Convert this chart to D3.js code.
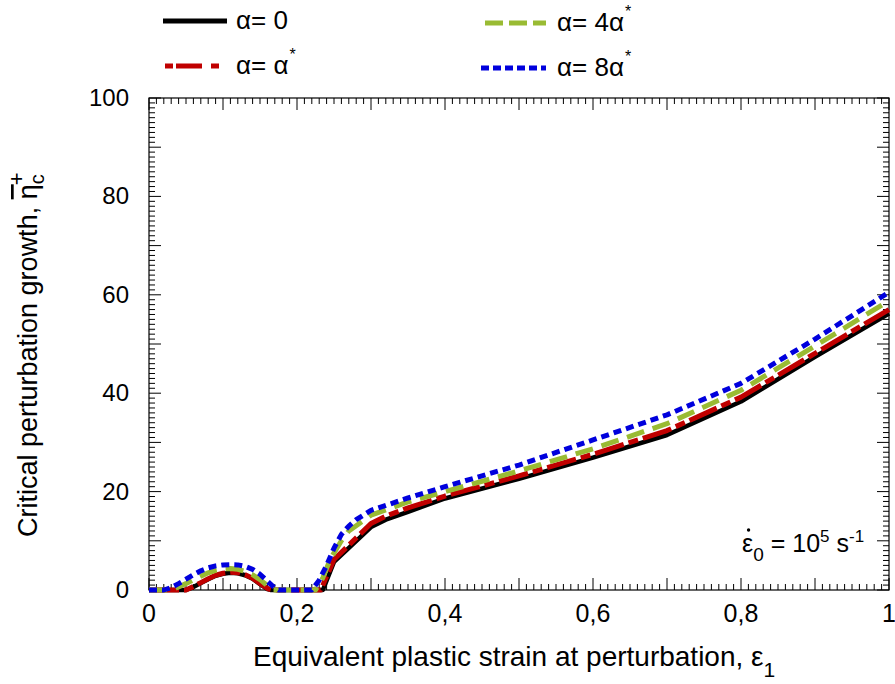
<!DOCTYPE html>
<html>
<head>
<meta charset="utf-8">
<script src="https://cdn.jsdelivr.net/npm/d3@7"></script>
<style>
  html, body { margin: 0; padding: 0; background: #fff; }
  svg text { font-family: "Liberation Sans", Arial, Helvetica, sans-serif; fill: #000; }
</style>
</head>
<body>
<svg id="chart" width="895" height="684"></svg>
<script>
// ---------- data ----------
const alpha0X = [0, 0.05, 0.06, 0.07, 0.08, 0.09, 0.10, 0.11, 0.12, 0.13, 0.14, 0.15, 0.16, 0.165, 0.2, 0.235, 0.25, 0.3, 0.32, 0.35, 0.4, 0.5, 0.6, 0.7, 0.8, 0.9, 1.0];
const alpha0Y = [0, 0, 0.6, 1.4, 2.2, 2.9, 3.3, 3.5, 3.4, 3.0, 2.3, 1.2, 0.2, 0, 0, 0, 5.7, 12.8, 14.3, 15.9, 18.6, 22.6, 26.9, 31.5, 38.3, 47.4, 56.2];

const alpha1X = [0, 0.05, 0.06, 0.07, 0.08, 0.09, 0.10, 0.11, 0.12, 0.13, 0.14, 0.15, 0.16, 0.167, 0.2, 0.232, 0.25, 0.3, 0.32, 0.35, 0.4, 0.5, 0.6, 0.7, 0.8, 0.9, 1.0];
const alpha1Y = [0, 0, 0.7, 1.5, 2.3, 3.0, 3.4, 3.6, 3.5, 3.1, 2.4, 1.3, 0.3, 0, 0, 0, 6.2, 13.5, 15.0, 16.7, 19.1, 23.2, 27.6, 32.4, 39.2, 48.1, 57.0];

const alpha4X = [0, 0.03, 0.04, 0.05, 0.06, 0.07, 0.08, 0.09, 0.10, 0.11, 0.12, 0.13, 0.14, 0.15, 0.16, 0.168, 0.2, 0.225, 0.235, 0.245, 0.26, 0.27, 0.3, 0.35, 0.4, 0.5, 0.6, 0.7, 0.8, 0.9, 1.0];
const alpha4Y = [0, 0, 0.6, 1.3, 2.1, 2.8, 3.5, 4.0, 4.3, 4.35, 4.2, 3.8, 3.1, 2.1, 0.9, 0, 0, 0, 2.5, 6.3, 10.0, 12.0, 15.2, 17.9, 20.0, 24.2, 28.7, 33.8, 40.6, 49.6, 58.8];

const alpha8X = [0, 0.02, 0.03, 0.04, 0.05, 0.06, 0.07, 0.08, 0.09, 0.10, 0.11, 0.12, 0.13, 0.14, 0.15, 0.16, 0.17, 0.175, 0.2, 0.22, 0.23, 0.24, 0.25, 0.26, 0.27, 0.28, 0.3, 0.35, 0.4, 0.5, 0.6, 0.7, 0.8, 0.9, 1.0];
const alpha8Y = [0, 0, 0.5, 1.3, 2.2, 3.1, 3.9, 4.5, 4.9, 5.1, 5.15, 5.1, 4.8, 4.2, 3.2, 1.8, 0.4, 0, 0, 0, 2.0, 5.0, 8.5, 11.3, 13.0, 14.3, 16.2, 18.7, 21.0, 25.4, 30.5, 35.6, 42.0, 51.0, 60.5];

const xTickLabels = [0, 0.2, 0.4, 0.6, 0.8, 1];
const yTickLabels = [0, 20, 40, 60, 80, 100];

const seriesNames = ["α= 0", "α= α", "α= 4α", "α= 8α"];
const seriesColors = ["#000000", "#c00000", "#99bb33", "#0000dd"];
const seriesDash = [null, "30,5,10,5", "18,9", "8,5"];
const legendDash = [null, "8,3,26,9", "18,6", "8,4"];

// ---------- layout ----------
const svg = d3.select("#chart");
const L = 149, R = 889, T = 98, B = 590;
const x = d3.scaleLinear().domain([0, 1]).range([L, R]);
const y = d3.scaleLinear().domain([0, 100]).range([B, T]);

// ---------- ticks (inward on all four sides) ----------
const xMinor = d3.range(0, 101).map(d => d / 100);
const yMinor = d3.range(0, 101);
const tickG = svg.append("g").attr("stroke", "#000").attr("stroke-width", 1);
xMinor.forEach(v => {
  const major = Math.round(v * 100) % 10 === 0;
  const len = major ? 12 : 6;
  tickG.append("line").attr("x1", x(v)).attr("x2", x(v)).attr("y1", B).attr("y2", B - len);
  tickG.append("line").attr("x1", x(v)).attr("x2", x(v)).attr("y1", T).attr("y2", T + len);
});
yMinor.forEach(v => {
  const major = v % 10 === 0;
  const len = major ? 12 : 6;
  tickG.append("line").attr("y1", y(v)).attr("y2", y(v)).attr("x1", L).attr("x2", L + len);
  tickG.append("line").attr("y1", y(v)).attr("y2", y(v)).attr("x1", R).attr("x2", R - len);
});

// frame
svg.append("rect").attr("x", L).attr("y", T).attr("width", R - L).attr("height", B - T)
  .attr("fill", "none").attr("stroke", "#000").attr("stroke-width", 1.2);

// tick labels
const fmt = v => String(v).replace(".", ",");
svg.append("g").selectAll("text").data(xTickLabels).join("text")
  .attr("x", d => x(d)).attr("y", 622)
  .attr("text-anchor", "middle").attr("font-size", 25)
  .text(fmt);
svg.append("g").selectAll("text").data(yTickLabels).join("text")
  .attr("x", 129).attr("y", d => y(d) + 8)
  .attr("text-anchor", "end").attr("font-size", 24)
  .text(d => d);

// ---------- curves ----------
const line = d3.line().x(d => x(d[0])).y(d => y(d[1])).curve(d3.curveLinear);
const seriesData = [
  d3.zip(alpha0X, alpha0Y),
  d3.zip(alpha1X, alpha1Y),
  d3.zip(alpha4X, alpha4Y),
  d3.zip(alpha8X, alpha8Y)
];
seriesData.forEach((data, i) => {
  svg.append("path").datum(data)
    .attr("d", line)
    .attr("fill", "none")
    .attr("stroke", seriesColors[i])
    .attr("stroke-width", i === 0 ? 4.5 : 5)
    .attr("stroke-dasharray", seriesDash[i])
    .attr("stroke-linejoin", "round");
});

// ---------- legend ----------
const legendPos = [
  {x1: 163, x2: 227, y: 21, tx: 236},
  {x1: 165, x2: 220, y: 66, tx: 236},
  {x1: 485, x2: 546, y: 23, tx: 557},
  {x1: 481, x2: 546, y: 68, tx: 557}
];
seriesNames.forEach((name, i) => {
  const p = legendPos[i];
  svg.append("line").attr("x1", p.x1).attr("x2", p.x2).attr("y1", p.y).attr("y2", p.y)
    .attr("stroke", seriesColors[i]).attr("stroke-width", 5)
    .attr("stroke-dasharray", legendDash[i]);
  const t = svg.append("text").attr("x", p.tx).attr("y", p.y + 8).attr("font-size", 26);
  t.append("tspan").text(name);
  if (i > 0) t.append("tspan").attr("dx", 1).attr("dy", -14).attr("font-size", 16).text("*");
});

// ---------- axis titles ----------
const xt = svg.append("text").attr("x", 253).attr("y", 666).attr("font-size", 28);
xt.append("tspan").text("Equivalent plastic strain at perturbation, ε");
xt.append("tspan").attr("dy", 11).attr("font-size", 21).text("1");

const yt = svg.append("text").attr("transform", "translate(37,537) rotate(-90)").attr("font-size", 27);
yt.append("tspan").text("Critical perturbation growth, ");
yt.append("tspan").attr("style", "text-decoration: overline").text("η");
yt.append("tspan").attr("dy", 7).attr("font-size", 20).text("c");
yt.append("tspan").attr("dx", -11).attr("dy", -20).attr("font-size", 22).text("+");

// ---------- annotation (ε with dot above, subscript 0) ----------
const an = svg.append("text").attr("x", 742).attr("y", 552).attr("font-size", 25);
const epsSpan = an.append("tspan").text("ε");
an.append("tspan").attr("dy", 9).attr("font-size", 19).text("0");
an.append("tspan").attr("dy", -9).text(" = 10");
an.append("tspan").attr("dy", -10).attr("font-size", 17).text("5");
an.append("tspan").attr("dy", 10).text(" s");
an.append("tspan").attr("dy", -10).attr("font-size", 17).text("-1");
const epsW = epsSpan.node().getComputedTextLength();
svg.append("circle").attr("cx", 742 + epsW / 2 + 1).attr("cy", 530).attr("r", 1.7).attr("fill", "#000");
</script>
</body>
</html>
